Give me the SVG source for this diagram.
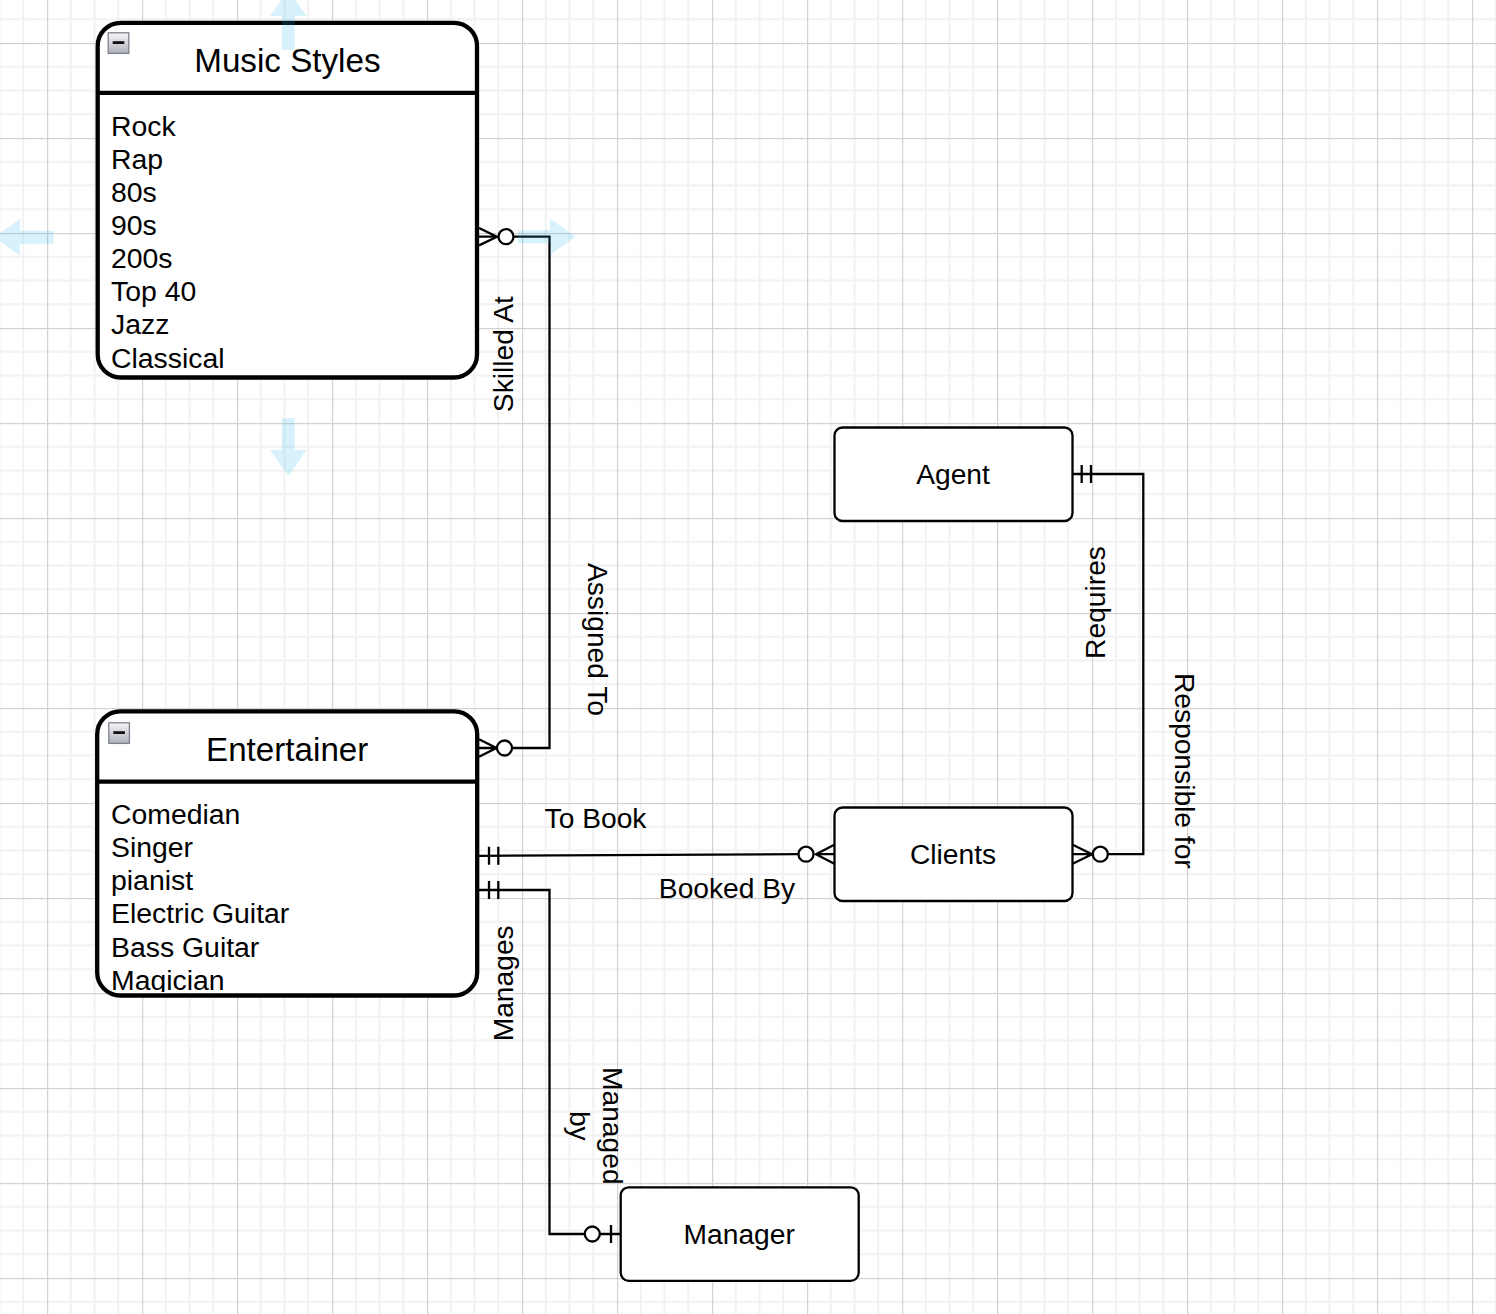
<svg xmlns="http://www.w3.org/2000/svg" width="1496" height="1314" viewBox="0 0 1496 1314">
<style>
text{font-family:"Liberation Sans",Arial,Helvetica,sans-serif;fill:#000}
.title{font-size:33.2px;text-anchor:middle}
.item{font-size:28.4px}
.lbl{font-size:28.2px;text-anchor:middle}
.ent{font-size:28.2px;text-anchor:middle}
.table{fill:#fff;stroke:#000;stroke-width:4.3}
.sep{stroke:#000;stroke-width:4.3}
.box{fill:#fff;stroke:#000;stroke-width:2.3}
.cn{fill:none;stroke:#000;stroke-width:2.3}
.circ{fill:#fff;stroke:#000;stroke-width:2.3}
.hov{fill:#29b6f2;fill-opacity:0.18}
</style>
<defs>
<pattern id="grid" x="47" y="43" width="95" height="95" patternUnits="userSpaceOnUse">
<rect width="95" height="95" fill="#fff"/>
<rect x="22.75" y="0" width="2" height="95" fill="#f2f2f2"/>
<rect x="46.5" y="0" width="2" height="95" fill="#f2f2f2"/>
<rect x="70.25" y="0" width="2" height="95" fill="#f2f2f2"/>
<rect x="0" y="22.75" width="95" height="2" fill="#f2f2f2"/>
<rect x="0" y="46.5" width="95" height="2" fill="#f2f2f2"/>
<rect x="0" y="70.25" width="95" height="2" fill="#f2f2f2"/>
<rect x="0" y="0" width="1.2" height="95" fill="#d2d2d2"/>
<rect x="0" y="0" width="95" height="1.2" fill="#d2d2d2"/>
</pattern>
<linearGradient id="cg" x1="0" y1="0" x2="0" y2="1">
<stop offset="0" stop-color="#f6f6f8"/>
<stop offset="1" stop-color="#aeb2ba"/>
</linearGradient>
<clipPath id="entClip"><rect x="99" y="784" width="376" height="208"/></clipPath>
</defs>
<rect width="1496" height="1314" fill="url(#grid)"/>

<g id="connectors">
<path class="cn" d="M479,228 L497,236.7 L479,245.4 M479,236.7 H497"/>
<path class="cn" d="M513.5,236.7 H549.5 V748 H512"/>
<circle class="circ" cx="506" cy="236.7" r="7.5"/>
<path class="cn" d="M479,739.3 L496.5,748 L479,756.7 M479,748 H496.5"/>
<circle class="circ" cx="504.5" cy="748" r="7.5"/>
<path class="cn" d="M479,855.8 L798.5,854.2"/>
<path class="cn" d="M489,846.8 V864.8 M498.3,846.8 V864.8"/>
<circle class="circ" cx="806" cy="854.2" r="7.5"/>
<path class="cn" d="M834.3,844.7 L816,854.2 L834.3,863.7 M816,854.2 H834.3"/>
<path class="cn" d="M479,890 H549.5 V1234 H584.8"/>
<path class="cn" d="M489,881 V899 M498.3,881 V899"/>
<circle class="circ" cx="592.3" cy="1234" r="7.5"/>
<path class="cn" d="M599.8,1234 H620.7 M611,1225 V1243"/>
<path class="cn" d="M1072.5,474 H1143.3 V854.2 H1107.8"/>
<path class="cn" d="M1081.7,465 V483 M1091,465 V483"/>
<circle class="circ" cx="1100.3" cy="854.2" r="7.5"/>
<path class="cn" d="M1072.7,844.7 L1092,854.2 L1072.7,863.7 M1072.7,854.2 H1092"/>

<text class="lbl" transform="translate(512.5,354.2) rotate(-90)">Skilled At</text>
<text class="lbl" transform="translate(588,639.5) rotate(90)">Assigned To</text>
<text class="lbl" x="595.5" y="828.3">To Book</text>
<text class="lbl" x="727" y="898.3">Booked By</text>
<text class="lbl" transform="translate(512.5,983.3) rotate(-90)">Manages</text>
<text class="lbl" transform="translate(603.3,1125.8) rotate(90)"><tspan x="0" y="0">Managed</tspan><tspan x="0" y="33.3">by</tspan></text>
<text class="lbl" transform="translate(1105.3,602.5) rotate(-90)">Requires</text>
<text class="lbl" transform="translate(1175,770.8) rotate(90)">Responsible for</text>
</g>

<g id="music-styles">
<rect class="table" x="97.7" y="22.8" width="379.3" height="354.7" rx="23" ry="23"/>
<line class="sep" x1="97.7" y1="92.8" x2="477" y2="92.8"/>
<rect x="108.2" y="32.8" width="20.6" height="20.6" fill="url(#cg)" stroke="#7d828c" stroke-width="1.3"/>
<rect x="112.7" y="41.2" width="11.6" height="2.8" fill="#111"/>
<text class="title" x="287.4" y="72">Music Styles</text>
<text class="item" x="111" y="135.5">Rock</text>
<text class="item" x="111" y="168.6">Rap</text>
<text class="item" x="111" y="201.8">80s</text>
<text class="item" x="111" y="235">90s</text>
<text class="item" x="111" y="268.1">200s</text>
<text class="item" x="111" y="301.2">Top 40</text>
<text class="item" x="111" y="334.4">Jazz</text>
<text class="item" x="111" y="367.5">Classical</text>
</g>

<g id="entertainer">
<rect class="table" x="97.2" y="711.3" width="380" height="284.2" rx="23" ry="23"/>
<line class="sep" x1="97.2" y1="781.7" x2="477.2" y2="781.7"/>
<rect x="108.8" y="722.8" width="20.6" height="20.6" fill="url(#cg)" stroke="#7d828c" stroke-width="1.3"/>
<rect x="113.3" y="731.2" width="11.6" height="2.8" fill="#111"/>
<text class="title" x="287.2" y="761">Entertainer</text>
<g clip-path="url(#entClip)">
<text class="item" x="111" y="823.8">Comedian</text>
<text class="item" x="111" y="857">Singer</text>
<text class="item" x="111" y="890.1">pianist</text>
<text class="item" x="111" y="923.3">Electric Guitar</text>
<text class="item" x="111" y="956.5">Bass Guitar</text>
<text class="item" x="111" y="989.7">Magician</text>
</g>
</g>

<g id="agent">
<rect class="box" x="834.5" y="427.5" width="238" height="93.5" rx="8" ry="8"/>
<text class="ent" x="953" y="483.7">Agent</text>
</g>

<g id="clients">
<rect class="box" x="834.5" y="807.5" width="238" height="93.5" rx="8" ry="8"/>
<text class="ent" x="953" y="863.5">Clients</text>
</g>

<g id="manager">
<rect class="box" x="620.7" y="1187.3" width="238" height="93.5" rx="8" ry="8"/>
<text class="ent" x="739.2" y="1243.5">Manager</text>
</g>

<g id="hover-arrows">
<path class="hov" d="M281.8,50 V16 H270 L288.3,-10 L306.6,16 H294.8 V50 Z"/>
<path class="hov" d="M281.8,418.3 V450 H270 L288.3,476 L306.6,450 H294.8 V418.3 Z"/>
<path class="hov" d="M53.5,230.8 H20 V219 L-6,237.3 L20,255.6 V243.8 H53.5 Z"/>
<path class="hov" d="M518,230.2 H550 V218.4 L575.5,236.7 L550,255 V243.2 H518 Z"/>
</g>
</svg>
